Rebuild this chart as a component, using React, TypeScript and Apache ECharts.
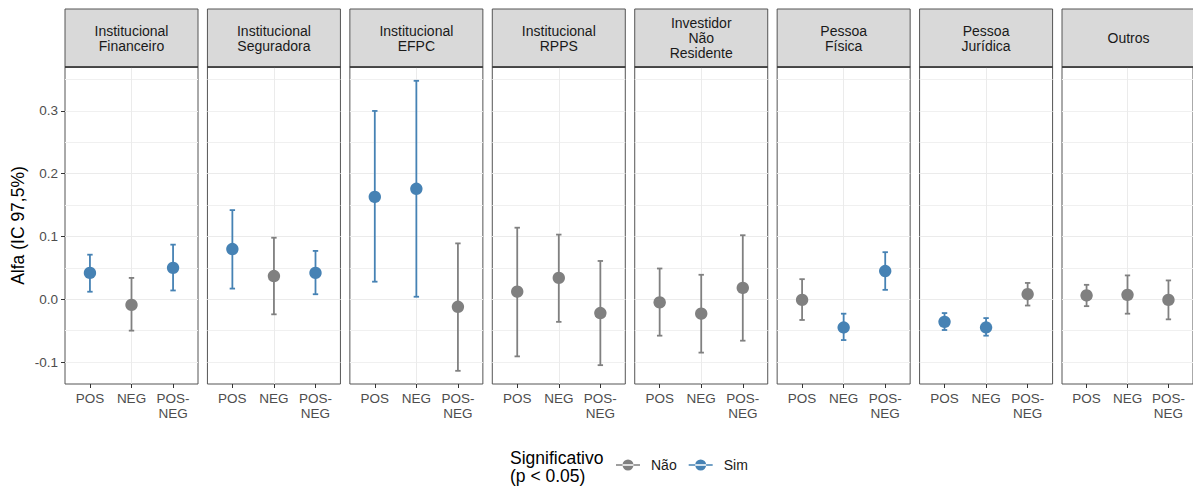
import React, { useEffect, useRef } from 'react';
import * as echarts from 'echarts';

const panelNames = [
  'Institucional\nFinanceiro',
  'Institucional\nSeguradora',
  'Institucional\nEFPC',
  'Institucional\nRPPS',
  'Investidor\nNão\nResidente',
  'Pessoa\nFísica',
  'Pessoa\nJurídica',
  'Outros',
];
const categories = ['POS', 'NEG', 'POS-NEG'];
const estimate = [
  [0.042, -0.009, 0.050],
  [0.080, 0.037, 0.042],
  [0.163, 0.176, -0.012],
  [0.012, 0.034, -0.022],
  [-0.005, -0.023, 0.018],
  [-0.001, -0.045, 0.045],
  [-0.036, -0.045, 0.008],
  [0.006, 0.007, -0.001],
];
const lower = [
  [0.012, -0.050, 0.014],
  [0.017, -0.024, 0.008],
  [0.028, 0.004, -0.114],
  [-0.091, -0.036, -0.105],
  [-0.058, -0.085, -0.066],
  [-0.033, -0.065, 0.015],
  [-0.049, -0.058, -0.010],
  [-0.011, -0.023, -0.032],
];
const upper = [
  [0.071, 0.034, 0.087],
  [0.142, 0.098, 0.077],
  [0.300, 0.348, 0.089],
  [0.114, 0.103, 0.061],
  [0.049, 0.039, 0.102],
  [0.032, -0.023, 0.075],
  [-0.022, -0.030, 0.026],
  [0.023, 0.038, 0.030],
];
// 1 = Sim (significant), 0 = Não
const significant = [
  [1, 0, 1],
  [1, 0, 1],
  [1, 1, 0],
  [0, 0, 0],
  [0, 0, 0],
  [0, 1, 1],
  [1, 1, 0],
  [0, 0, 0],
];
const yTicks = [-0.1, 0, 0.1, 0.2, 0.3];
const xTicks = [0, 1, 2];
const legendNames = ['Não', 'Sim'];
const legendColors = ['#808080', '#4682B4'];
const yMin = -0.135;
const yMax = 0.37;

const FONT = 'Liberation Sans, Arial, Helvetica, sans-serif';

export default function App() {
  const ref = useRef<HTMLDivElement>(null);
  useEffect(() => {
    if (!ref.current) return;
    const chart = echarts.init(ref.current, null, { renderer: 'svg' });
    const n = panelNames.length;
    const gridLeft0 = 65;
    const step = 142.43;
    const gridW = 133;
    const gridTop = 67;
    const gridH = 317;

    const grids: any[] = [];
    const xAxes: any[] = [];
    const yAxes: any[] = [];
    const series: any[] = [];
    const graphics: any[] = [];

    for (let p = 0; p < n; p++) {
      const left = gridLeft0 + p * step;
      grids.push({
        left,
        top: gridTop,
        width: gridW,
        height: gridH,
        show: true,
        backgroundColor: '#ffffff',
        borderColor: '#555555',
        borderWidth: 1,
      });
      xAxes.push({
        type: 'value',
        gridIndex: p,
        position: 'bottom',
        min: -0.6,
        max: 2.6,
        splitNumber: 3,
        axisLine: { show: false, onZero: false },
        axisTick: {
          show: true,
          customValues: xTicks,
          length: 4,
          lineStyle: { color: '#333333', width: 1 },
        },
        axisLabel: {
          show: true,
          customValues: xTicks,
          formatter: (v: number) => categories[Math.round(v)].replace('-', '-\n'),
          fontSize: 13.5,
          color: '#4D4D4D',
          lineHeight: 15,
          margin: 7,
          fontFamily: FONT,
        },
        splitLine: {
          show: true,
          showMinLine: false,
          showMaxLine: false,
          lineStyle: { color: '#EBEBEB', width: 1 },
        },
      });
      // minor grid axis
      yAxes.push({
        type: 'value',
        gridIndex: p,
        position: 'left',
        offset: 0,
        min: yMin,
        max: yMax,
        splitNumber: 10,
        axisLine: { show: false, onZero: false },
        axisTick: { show: false },
        axisLabel: { show: false },
        splitLine: {
          show: true,
          showMinLine: false,
          showMaxLine: false,
          lineStyle: { color: '#F0F0F0', width: 1 },
        },
      });
      // major grid + labels axis
      yAxes.push({
        type: 'value',
        gridIndex: p,
        position: 'left',
        offset: 0,
        min: yMin,
        max: yMax,
        splitNumber: 5,
        axisLine: { show: false, onZero: false },
        axisTick: {
          show: p === 0,
          customValues: yTicks,
          length: 4,
          lineStyle: { color: '#333333', width: 1 },
        },
        axisLabel: {
          show: p === 0,
          customValues: yTicks,
          formatter: (v: number) => v.toFixed(1),
          fontSize: 13.5,
          color: '#4D4D4D',
          margin: 7,
          fontFamily: FONT,
        },
        splitLine: {
          show: true,
          showMinLine: false,
          showMaxLine: false,
          lineStyle: { color: '#EBEBEB', width: 1 },
        },
        name: p === 0 ? 'Alfa (IC 97,5%)' : '',
        nameLocation: 'middle',
        nameGap: 38,
        nameTextStyle: { fontSize: 17.5, color: '#000000', fontFamily: FONT },
      });

      for (let s = 0; s < 2; s++) {
        const data: number[][] = [];
        for (let i = 0; i < categories.length; i++) {
          if (significant[p][i] === s) {
            data.push([i, estimate[p][i], lower[p][i], upper[p][i]]);
          }
        }
        series.push({
          type: 'custom',
          name: legendNames[s],
          xAxisIndex: p,
          yAxisIndex: 2 * p,
          itemStyle: { color: legendColors[s] },
          encode: { x: 0, y: [1, 2, 3] },
          data,
          renderItem: (params: any, api: any) => {
            const x = api.value(0);
            const y = api.value(1);
            const lo = api.value(2);
            const hi = api.value(3);
            const top = api.coord([x, hi]);
            const bot = api.coord([x, lo]);
            const mid = api.coord([x, y]);
            const half = api.size([0.065, 0])[0];
            const color = legendColors[s];
            const ls = { stroke: color, lineWidth: 1.8 };
            return {
              type: 'group',
              children: [
                { type: 'line', shape: { x1: top[0], y1: top[1], x2: bot[0], y2: bot[1] }, style: ls },
                { type: 'line', shape: { x1: top[0] - half, y1: top[1], x2: top[0] + half, y2: top[1] }, style: ls },
                { type: 'line', shape: { x1: bot[0] - half, y1: bot[1], x2: bot[0] + half, y2: bot[1] }, style: ls },
                { type: 'circle', shape: { cx: mid[0], cy: mid[1], r: 6.2 }, style: { fill: color } },
              ],
            };
          },
        });
      }

      // strip
      graphics.push({
        type: 'rect',
        shape: { x: left, y: 9, width: gridW, height: gridTop - 9 },
        style: { fill: '#D9D9D9', stroke: '#555555', lineWidth: 1 },
        z: 10,
      });
      graphics.push({
        type: 'line',
        shape: { x1: left, y1: gridTop, x2: left + gridW, y2: gridTop },
        style: { stroke: '#333333', lineWidth: 1.5 },
        z: 11,
      });
      graphics.push({
        type: 'text',
        x: left + gridW / 2,
        y: 38,
        style: {
          text: panelNames[p],
          fontSize: 14,
          fontFamily: FONT,
          fill: '#1A1A1A',
          lineHeight: 15,
          align: 'center',
          verticalAlign: 'middle',
        },
        z: 12,
      });
    }

    graphics.push({
      type: 'text',
      x: 510,
      y: 449,
      style: {
        text: 'Significativo\n(p < 0.05)',
        fontSize: 17.5,
        fontFamily: FONT,
        fill: '#000000',
        lineHeight: 18,
        align: 'left',
        verticalAlign: 'top',
      },
    });

    chart.setOption({
      animation: false,
      textStyle: { fontFamily: FONT },
      grid: grids,
      xAxis: xAxes,
      yAxis: yAxes,
      series,
      graphic: graphics,
      legend: {
        data: legendNames,
        left: 616,
        top: 458,
        padding: 0,
        orient: 'horizontal',
        icon: 'path://M0,5.2H24V6.8H0Z M6.5,6A5.5,5.5,0,1,0,17.5,6A5.5,5.5,0,1,0,6.5,6Z',
        itemWidth: 24,
        itemHeight: 11,
        itemGap: 12,
        textStyle: { fontSize: 14, color: '#1A1A1A', fontFamily: FONT, padding: [0, 0, 0, 6] },
      },
    });
    return () => chart.dispose();
  }, []);
  return (
    <div
      ref={ref}
      style={{ position: 'absolute', left: 0, top: 0, width: 1193, height: 489 }}
    />
  );
}
